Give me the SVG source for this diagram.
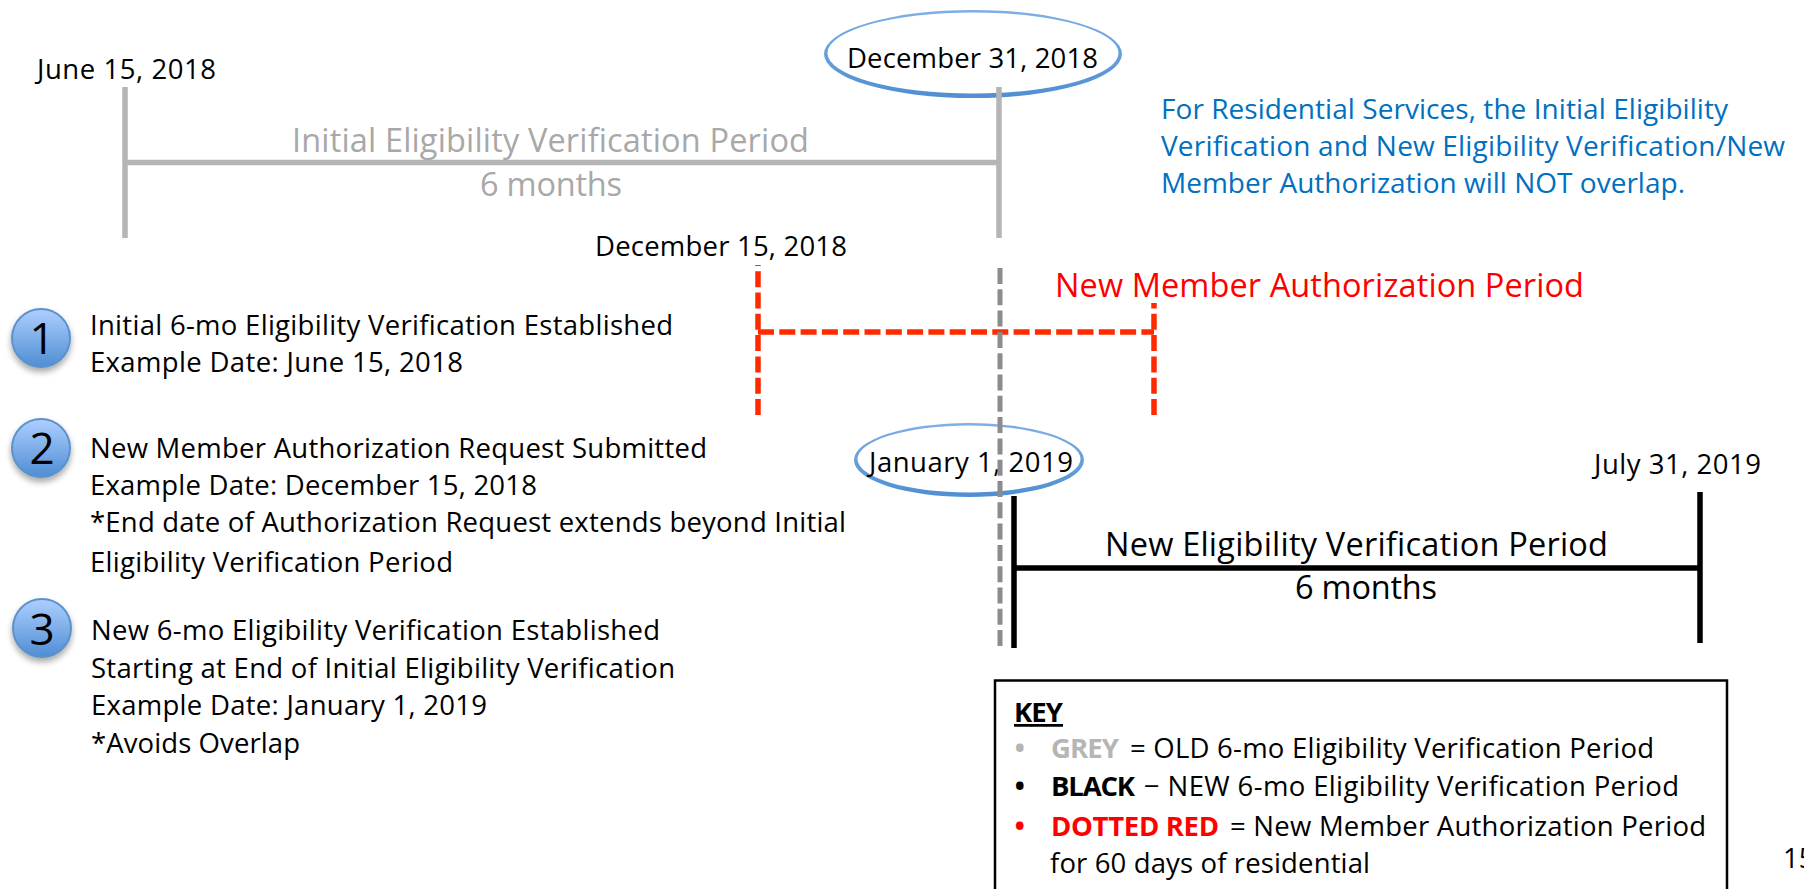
<svg xmlns="http://www.w3.org/2000/svg" width="1804" height="889" viewBox="0 0 1804 889">
<style>
text{font-family:"Open Sans","Noto Sans","Liberation Sans",sans-serif;fill:#000;font-size:27.500px;font-variant-ligatures:none}
.big{font-size:32.500px}
.grey{fill:#a8a8a8}
.keygrey{fill:#b5b5b5}
.blue{fill:#0070c0;font-size:28px}
.red{fill:#ff0000}
.num{font-size:44px;text-anchor:middle}
.dot{font-size:36px}
.b{font-weight:700}
.oval{fill:url(#ov);fill-rule:evenodd}
.badge{fill:url(#bg);stroke:#5b92cc;stroke-width:2;filter:url(#sh)}
.gl{stroke:#b5b5b5;stroke-width:5.500;fill:none}
.bl{stroke:#000;stroke-width:5.500;fill:none}
.rd{stroke:#ff2a00;stroke-width:5.500;fill:none;stroke-dasharray:16 5.300}
.gd{stroke:#8c8c8c;stroke-width:5;fill:none;stroke-dasharray:16 5.300}
</style>
<defs>
<linearGradient id="bg" x1="0" y1="0" x2="0" y2="1"><stop offset="0" stop-color="#aecfff"/><stop offset="1" stop-color="#4f8ed3"/></linearGradient>
<linearGradient id="ov" x1="0" y1="0" x2="0" y2="1"><stop offset="0" stop-color="#7fafe6"/><stop offset="1" stop-color="#4f8fd2"/></linearGradient>
<filter id="sh" x="-30%" y="-30%" width="160%" height="170%"><feDropShadow dx="0" dy="4" stdDeviation="3" flood-color="#000" flood-opacity=".35"/></filter>
</defs>
<rect width="1804" height="889" fill="#fff"/>
<g id="oval-dec31"><path class="oval" d="M824 54a149 44 0 1 0 298 0a149 44 0 1 0-298 0ZM827.500 53a145.500 40.500 0 1 0 291 0a145.500 40.500 0 1 0-291 0Z"/><text x="847" y="68" textLength="251">December 31, 2018</text></g>
<g id="oval-jan1"><path class="oval" d="M854 460a115 37 0 1 0 230 0a115 37 0 1 0-230 0ZM857.500 459a111.500 33.500 0 1 0 223 0a111.500 33.500 0 1 0-223 0Z"/><text x="869" y="472" textLength="204">January 1, 2019</text></g>
<g id="label-jun15"><text x="37" y="79" textLength="179">June 15, 2018</text></g>
<g id="label-dec15"><text x="595" y="256" textLength="252">December 15, 2018</text></g>
<g id="label-jul31"><text x="1594" y="474" textLength="167">July 31, 2019</text></g>
<g id="label-initial"><text class="big grey" x="292" y="152" textLength="517">Initial Eligibility Verification Period</text><text class="big grey" x="480" y="196" textLength="142">6 months</text></g>
<g id="label-new"><text class="big" x="1105" y="556" textLength="503">New Eligibility Verification Period</text><text class="big" x="1295" y="599" textLength="142">6 months</text></g>
<g id="label-auth"><text class="big red" x="1055" y="297" textLength="529">New Member Authorization Period</text></g>
<g id="note"><text class="blue" x="1161" y="119" textLength="567">For Residential Services, the Initial Eligibility</text><text class="blue" x="1161" y="156" textLength="624">Verification and New Eligibility Verification/New</text><text class="blue" x="1161" y="193" textLength="524">Member Authorization will NOT overlap.</text></g>
<g id="step-1"><circle class="badge" cx="41" cy="338" r="29"/><text class="num" x="42" y="354">1</text><text x="90" y="335" textLength="583">Initial 6-mo Eligibility Verification Established</text><text x="90" y="372" textLength="373">Example Date: June 15, 2018</text></g>
<g id="step-2"><circle class="badge" cx="41" cy="448" r="29"/><text class="num" x="42" y="464">2</text><text x="90" y="458" textLength="617">New Member Authorization Request Submitted</text><text x="90" y="495" textLength="447">Example Date: December 15, 2018</text><text x="90" y="532" textLength="756">*End date of Authorization Request extends beyond Initial</text><text x="90" y="572" textLength="363">Eligibility Verification Period</text></g>
<g id="step-3"><circle class="badge" cx="42" cy="628" r="29"/><text class="num" x="42" y="645">3</text><text x="91" y="640" textLength="569">New 6-mo Eligibility Verification Established</text><text x="91" y="678" textLength="584">Starting at End of Initial Eligibility Verification</text><text x="91" y="715" textLength="396">Example Date: January 1, 2019</text><text x="91" y="753" textLength="209">*Avoids Overlap</text></g>
<g id="key"><rect x="995" y="680.500" width="732" height="240" fill="#fff" stroke="#000" stroke-width="2.500"/>
<text class="b" x="1014" y="722" textLength="49" text-decoration="underline">KEY</text>
<text class="keygrey dot" x="1013" y="761">•</text><text class="b keygrey" x="1051" y="758" textLength="68">GREY</text><text x="1130" y="758" textLength="524">= OLD 6-mo Eligibility Verification Period</text>
<text class="dot" x="1013" y="799">•</text><text class="b" x="1051" y="796" textLength="84">BLACK</text><text x="1144" y="796" textLength="535">− NEW 6-mo Eligibility Verification Period</text>
<text class="red dot" x="1013" y="839">•</text><text class="b red" x="1051" y="836" textLength="168">DOTTED RED</text><text x="1230" y="836" textLength="476">= New Member Authorization Period</text>
<text x="1050" y="873" textLength="320">for 60 days of residential</text></g>
<g id="page"><text x="1783" y="868">15</text></g>
<g id="connectors">
<path class="gl" d="M125 87V238M125 162.500H999M999 87V238"/>
<path class="rd" d="M758 415V265"/>
<path class="rd" d="M1154 415V303"/>
<path class="rd" d="M758 332H1154"/>
<path class="gd" d="M1000 268V648"/>
<path class="bl" d="M1014 496V648M1014 568H1700M1700 492V643"/>
</g>
</svg>
